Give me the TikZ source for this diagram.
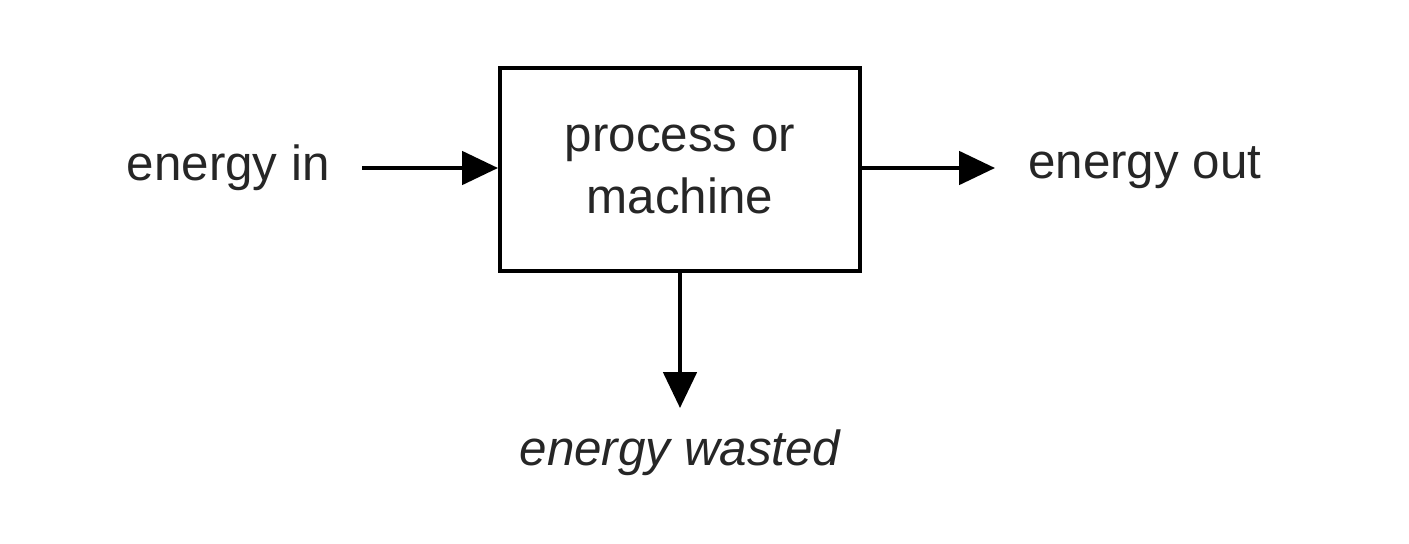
\documentclass[tikz,border=0pt]{standalone}
\usepackage{fontspec}
\setmainfont{Liberation Sans}
\usetikzlibrary{arrows.meta}
\definecolor{txt}{HTML}{262626}
\begin{document}
\begin{tikzpicture}[x=0.75pt,y=-0.75pt,
  lbl/.style={text=txt,font=\fontsize{37}{44}\selectfont,inner sep=0pt},
  arr/.style={line width=3pt,-{Triangle[length=27pt,width=25pt]}},
  box/.style={draw,line width=3pt,minimum width=270pt,minimum height=152pt,align=center,text=txt,font=\fontsize{37}{46}\selectfont}]
\useasboundingbox (0,0) rectangle (1409,543);
\node[box] (p) at (680,169.5) {process or\\machine};
\node[lbl,anchor=east] (in) at (330,168) {energy in};
\node[lbl,anchor=west] (out) at (1028,168) {energy out};
\node[lbl,font=\fontsize{37}{44}\selectfont\itshape] (w) at (680,453) {energy wasted};
\coordinate (a) at (362,168);
\draw[arr] (a) -- (p.west |- a);
\draw[arr] (p.east |- a) -- (995,168);
\draw[arr] (p.south) -- (680,408);
\end{tikzpicture}
\end{document}
